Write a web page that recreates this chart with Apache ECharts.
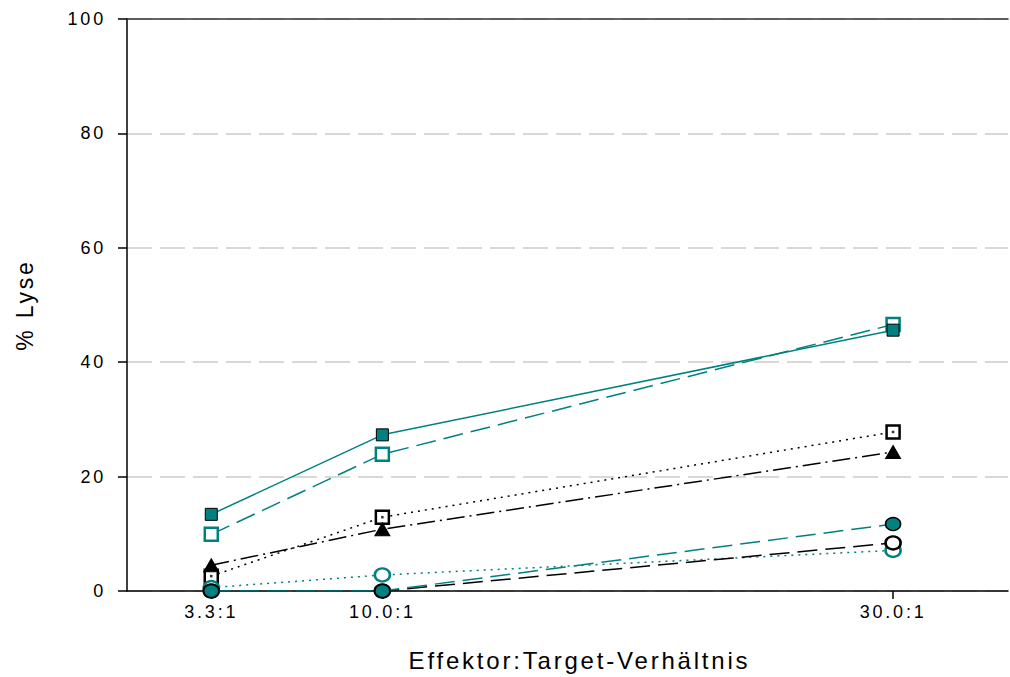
<!DOCTYPE html>
<html>
<head>
<meta charset="utf-8">
<script src="https://cdn.jsdelivr.net/npm/echarts@6/dist/echarts.min.js"></script>
<style>
  html, body { margin: 0; padding: 0; background: #fff; }
  #main { width: 1010px; height: 677px; }
  #main text { letter-spacing: 2.8px; }
</style>
</head>
<body>
<div id="main"></div>
<script>
// ---- data ----
const ratios = [3.3, 10, 30];
const xTickLabels = ['3.3:1', '10.0:1', '30.0:1'];
const yTicks = [0, 20, 40, 60, 80, 100];
const tealFilledSquare = [13.4, 27.3, 45.6];
const tealOpenSquare = [9.9, 23.9, 46.6];
const blackDotSquare = [2.6, 12.9, 27.8];
const blackTriangle = [4.5, 10.8, 24.3];
const tealFilledCircle = [0, 0, 11.7];
const blackOpenCircle = [0, 0, 8.4];
const tealOpenCircle = [0.6, 2.8, 7.1];

const TEAL = '#008080';
const FONT = '"Liberation Sans", Arial, sans-serif';

function pts(vals) { return ratios.map((x, i) => [x, vals[i]]); }

const chart = echarts.init(document.getElementById('main'), null, { renderer: 'svg' });

chart.setOption({
  animation: false,
  backgroundColor: '#fff',
  grid: { left: 127, right: 2, top: 19, bottom: 85 },
  xAxis: [{
    type: 'value', min: 0, max: 34.5,
    name: 'Effektor:Target-Verhältnis',
    nameLocation: 'middle', nameGap: 57,
    nameTextStyle: { fontFamily: FONT, fontSize: 24, color: '#000', padding: [0, 0, 0, 24] },
    axisLine: { show: true, onZero: false, lineStyle: { color: '#000', width: 1.5 } },
    axisTick: { show: true, customValues: ratios, length: 8, lineStyle: { color: '#000', width: 1.5 } },
    axisLabel: {
      customValues: ratios, margin: 12, fontFamily: FONT, fontSize: 18, color: '#000',
      formatter: v => xTickLabels[ratios.indexOf(v)]
    },
    splitLine: { show: false }
  }, {
    type: 'value', min: 0, max: 34.5, position: 'top',
    axisLine: { show: true, onZero: false, lineStyle: { color: '#333', width: 1.5 } },
    axisTick: { show: false }, axisLabel: { show: false }, splitLine: { show: false }
  }],
  yAxis: {
    type: 'value', min: 0, max: 100, interval: 20,
    name: '% Lyse', nameLocation: 'middle', nameGap: 91,
    nameTextStyle: { fontFamily: FONT, fontSize: 23, color: '#000' },
    axisLine: { show: true, lineStyle: { color: '#000', width: 1.5 } },
    axisTick: { show: true, length: 9, lineStyle: { color: '#000', width: 1.5 } },
    axisLabel: {
      customValues: yTicks, margin: 21, fontFamily: FONT, fontSize: 18, color: '#000'
    },
    splitLine: { show: true, lineStyle: { color: '#cccccc', width: 1.5, type: [25, 8] } }
  },
  series: [
    {
      name: 'B', type: 'line', data: pts(tealOpenSquare), z: 3,
      symbol: 'rect', symbolSize: 13,
      lineStyle: { color: TEAL, width: 1.5, type: [20, 8] },
      itemStyle: { color: '#fff', borderColor: TEAL, borderWidth: 2.5 }
    },
    {
      name: 'A', type: 'line', data: pts(tealFilledSquare), z: 4,
      symbol: 'rect', symbolSize: 12,
      lineStyle: { color: TEAL, width: 1.5 },
      itemStyle: { color: TEAL, borderColor: '#000', borderWidth: 1 }
    },
    {
      name: 'C', type: 'line', data: pts(blackDotSquare), z: 3,
      symbol: 'rect', symbolSize: 13,
      lineStyle: { color: '#000', width: 1.5, type: [2, 5] },
      itemStyle: { color: '#fff', borderColor: '#000', borderWidth: 2.5 }
    },
    {
      name: 'C-dot', type: 'scatter', data: pts(blackDotSquare), z: 4,
      symbol: 'rect', symbolSize: 2.5, silent: true,
      itemStyle: { color: '#000' }
    },
    {
      name: 'D', type: 'line', data: pts(blackTriangle), z: 4,
      symbol: 'triangle', symbolSize: [15, 13],
      lineStyle: { color: '#000', width: 1.5, type: [18, 5, 2, 5] },
      itemStyle: { color: '#000', borderColor: '#000', borderWidth: 1 }
    },
    {
      name: 'G', type: 'line', data: pts(tealOpenCircle), z: 3,
      symbol: 'circle', symbolSize: [15, 13],
      lineStyle: { color: TEAL, width: 1.5, type: [2, 5] },
      itemStyle: { color: '#fff', borderColor: TEAL, borderWidth: 2.5 }
    },
    {
      name: 'F', type: 'line', data: pts(blackOpenCircle), z: 3,
      symbol: 'circle', symbolSize: [15, 13],
      lineStyle: { color: '#000', width: 1.5, type: [20, 8] },
      itemStyle: { color: '#fff', borderColor: '#000', borderWidth: 2.5 }
    },
    {
      name: 'E', type: 'line', data: pts(tealFilledCircle), z: 5,
      symbol: 'circle', symbolSize: [15, 13],
      lineStyle: { color: TEAL, width: 1.5, type: [20, 8] },
      itemStyle: { color: TEAL, borderColor: '#000', borderWidth: 1.5 }
    }
  ]
});
</script>
</body>
</html>
